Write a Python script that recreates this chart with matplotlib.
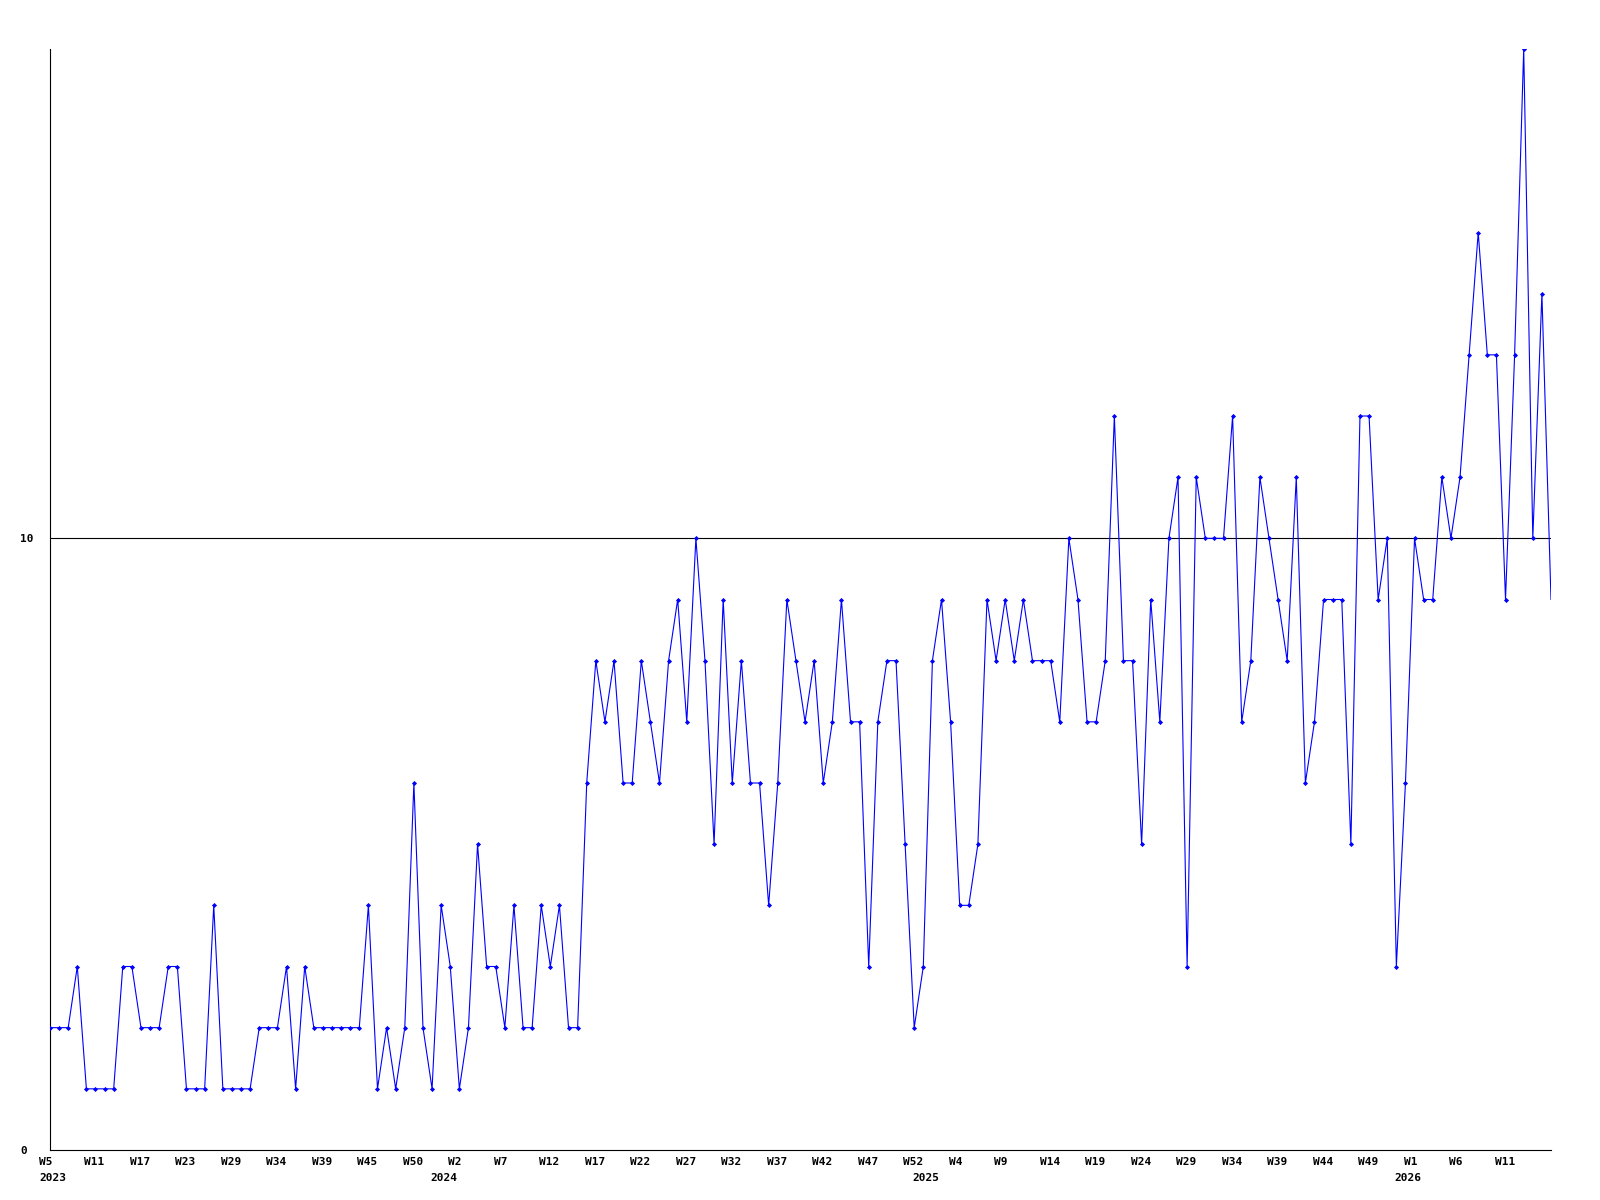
import matplotlib
matplotlib.use("Agg")
from matplotlib import pyplot as plt
from matplotlib import transforms

# weekly counts, 2023 W5 .. 2026
values = [2, 2, 2, 3, 1, 1, 1, 1, 3, 3, 2, 2, 2, 3, 3, 1, 1, 1, 4, 1, 1, 1, 1, 2, 2, 2, 3, 1, 3,
          2, 2, 2, 2, 2, 2, 4, 1, 2, 1, 2, 6, 2, 1, 4, 3, 1, 2, 5, 3, 3, 2, 4, 2, 2, 4, 3, 4, 2,
          2, 6, 8, 7, 8, 6, 6, 8, 7, 6, 8, 9, 7, 10, 8, 5, 9, 6, 8, 6, 6, 4, 6, 9, 8, 7, 8, 6,
          7, 9, 7, 7, 3, 7, 8, 8, 5, 2, 3, 8, 9, 7, 4, 4, 5, 9, 8, 9, 8, 9, 8, 8, 8, 7, 10, 9, 7,
          7, 8, 12, 8, 8, 5, 9, 7, 10, 11, 3, 11, 10, 10, 10, 12, 7, 8, 11, 10, 9, 8, 11, 6, 7, 9, 9, 9, 5,
          12, 12, 9, 10, 3, 6, 10, 9, 9, 11, 10, 11, 13, 15, 13, 13, 9, 13, 18, 10, 14, 9]

week_labels = ['W5', 'W11', 'W17', 'W23', 'W29', 'W34', 'W39', 'W45', 'W50',
               'W2', 'W7', 'W12', 'W17', 'W22', 'W27', 'W32', 'W37', 'W42', 'W47', 'W52',
               'W4', 'W9', 'W14', 'W19', 'W24', 'W29', 'W34', 'W39', 'W44', 'W49',
               'W1', 'W6', 'W11']
year_labels = ['2023', '2024', '2025', '2026']
year_pos = [0, 43, 96, 149]

font = {'family': 'DejaVu Sans Mono', 'weight': 'bold', 'size': 8}

fig = plt.figure(figsize=(16, 12), dpi=100)
ax = fig.add_axes([50 / 1600, 50 / 1200, 1501 / 1600, 1101 / 1200])

x = range(len(values))
# last (current) week is drawn without a marker
ax.plot(x, values, color='#0000ff', linewidth=0.8, marker='D', markersize=2.6,
        markeredgewidth=0, markevery=list(range(len(values) - 1)), zorder=3)
ax.axhline(10, color='black', linewidth=0.8, zorder=2)

ax.set_xlim(0, len(values) - 1)
ax.set_ylim(0, 18)

for s in ['top', 'right']:
    ax.spines[s].set_visible(False)
for s in ['left', 'bottom']:
    ax.spines[s].set_linewidth(0.8)

ax.set_yticks([0, 10])
ax.set_yticklabels(['0', '10'], fontdict=font)
ax.tick_params(axis='y', length=0, pad=21.6)
for t in ax.get_yticklabels():
    t.set_horizontalalignment('left')

ax.set_xticks(range(0, 5 * len(week_labels), 5))
ax.set_xticklabels(week_labels, fontdict=font)
ax.tick_params(axis='x', length=0, pad=5)
shift = transforms.ScaledTranslation(-11 / 100, 0, fig.dpi_scale_trans)
for t in ax.get_xticklabels():
    t.set_horizontalalignment('left')
    t.set_transform(t.get_transform() + shift)

for lab, p in zip(year_labels, year_pos):
    ax.annotate(lab, xy=(p, 0), xycoords=('data', 'axes fraction'),
                xytext=(-11 * 0.72, -16.5), textcoords='offset points',
                ha='left', va='top', **font)

plt.savefig('out.png', dpi=100)
